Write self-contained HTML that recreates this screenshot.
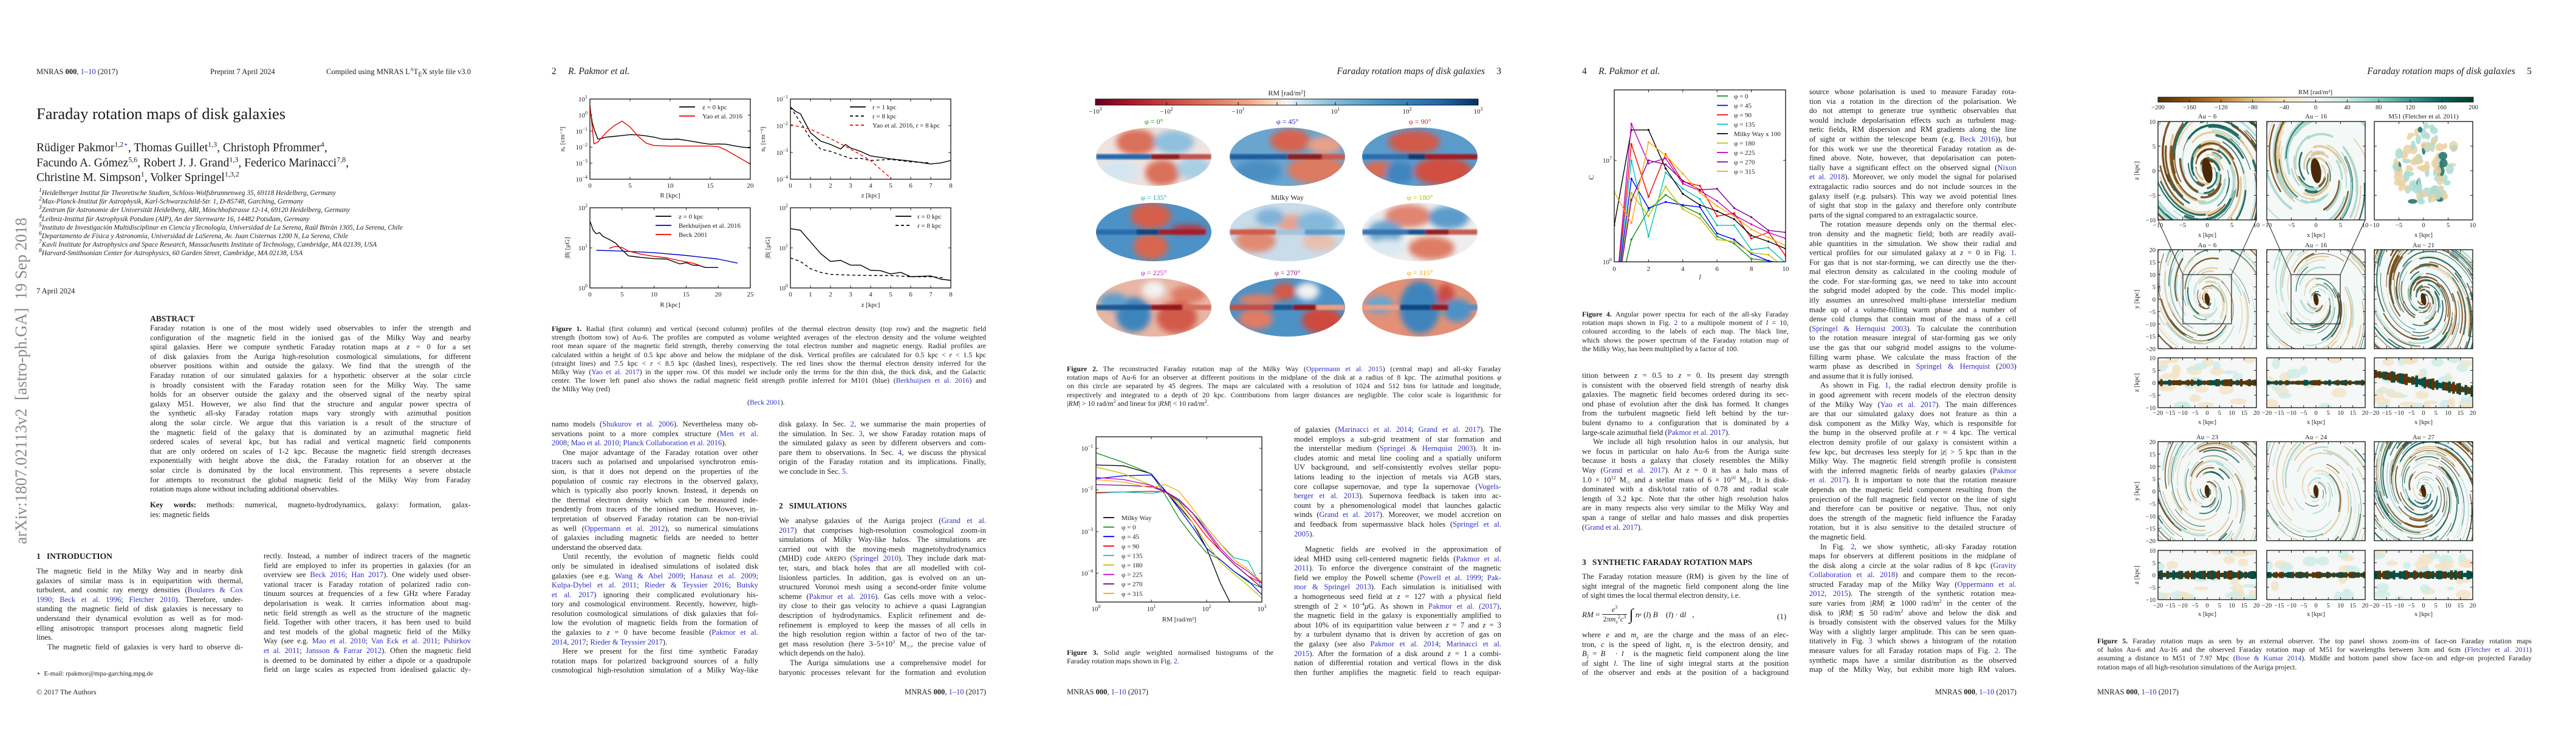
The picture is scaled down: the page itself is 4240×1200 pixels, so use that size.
<!DOCTYPE html>
<html><head><meta charset="utf-8"><title>Faraday rotation maps of disk galaxies</title>
<style>
body{margin:0;width:4240px;height:1200px;background:#fff;position:relative;overflow:hidden;font-family:"Liberation Serif",serif;color:#1c1c1c}
sup,sub{line-height:0}
.pg{position:absolute;top:0;width:848px;height:1200px}
.t{position:absolute;white-space:nowrap}
.col{position:absolute;font-size:12.6px;line-height:15.6px}
.col>div{height:15.6px;overflow:hidden;text-align:justify;text-align-last:justify}
.cap{position:absolute;font-size:11.8px;line-height:14.2px}
.cap>div{height:14.2px;overflow:hidden;text-align:justify;text-align-last:justify}
.col>div.e,.cap>div.e{text-align-last:left}
.col>div.i{text-indent:18px}
.c{color:#3030c0}
.h{position:absolute;font-weight:bold;font-size:13.5px;white-space:nowrap}
#gfx{position:absolute;left:0;top:0}
</style></head>
<body>
<svg id="gfx" width="4240" height="1200">
<defs>
<linearGradient id="rdbu" x1="0" x2="1" y1="0" y2="0">
<stop offset="0" stop-color="#67001f"/><stop offset="0.1" stop-color="#b2182b"/><stop offset="0.25" stop-color="#d6604d"/><stop offset="0.4" stop-color="#f4a582"/><stop offset="0.47" stop-color="#fddbc7"/><stop offset="0.5" stop-color="#f7f7f7"/><stop offset="0.53" stop-color="#d1e5f0"/><stop offset="0.6" stop-color="#92c5de"/><stop offset="0.75" stop-color="#4393c3"/><stop offset="0.9" stop-color="#2166ac"/><stop offset="1" stop-color="#053061"/>
</linearGradient>
<linearGradient id="brbg" x1="0" x2="1" y1="0" y2="0">
<stop offset="0" stop-color="#543005"/><stop offset="0.1" stop-color="#8c510a"/><stop offset="0.2" stop-color="#bf812d"/><stop offset="0.3" stop-color="#dfc27d"/><stop offset="0.4" stop-color="#f6e8c3"/><stop offset="0.5" stop-color="#f5f5f5"/><stop offset="0.6" stop-color="#c7eae5"/><stop offset="0.7" stop-color="#80cdc1"/><stop offset="0.8" stop-color="#35978f"/><stop offset="0.9" stop-color="#01665e"/><stop offset="1" stop-color="#003c30"/>
</linearGradient>
<filter id="bl" x="-20%" y="-20%" width="140%" height="140%"><feGaussianBlur stdDeviation="5"/></filter>
<filter id="bl2"><feGaussianBlur stdDeviation="1.6"/></filter>
</defs>
</svg>

<!-- PAGE 1 -->
<div class="pg" style="left:0">
<div class="t" style="left:60px;top:111px;font-size:12.5px">MNRAS <b>000</b>, <span class="c">1–10</span> (2017)</div>
<div class="t" style="left:346px;top:111px;font-size:12.5px">Preprint 7 April 2024</div>
<div class="t" style="right:73px;top:111px;font-size:12.5px">Compiled using MNRAS L<sup style="font-size:8px">A</sup>T<sub style="font-size:10px">E</sub>X style file v3.0</div>
<div class="t" style="left:60px;top:172px;font-size:26.5px">Faraday rotation maps of disk galaxies</div>
<div class="t" style="left:60px;top:232px;font-size:19.5px;line-height:24.5px">Rüdiger Pakmor<sup style="font-size:12px">1,2<span class="c">⋆</span></sup>, Thomas Guillet<sup style="font-size:12px">1,3</sup>, Christoph Pfrommer<sup style="font-size:12px">4</sup>,<br>Facundo A. Gómez<sup style="font-size:12px">5,6</sup>, Robert J. J. Grand<sup style="font-size:12px">1,3</sup>, Federico Marinacci<sup style="font-size:12px">7,8</sup>,<br>Christine M. Simpson<sup style="font-size:12px">1</sup>, Volker Springel<sup style="font-size:12px">1,3,2</sup></div>
<div class="t" style="left:64px;top:311px;font-size:11.4px;line-height:14.2px;font-style:italic"><sup>1</sup>Heidelberger Institut für Theoretische Studien, Schloss-Wolfsbrunnenweg 35, 69118 Heidelberg, Germany<br><sup>2</sup>Max-Planck-Institut für Astrophysik, Karl-Schwarzschild-Str. 1, D-85748, Garching, Germany<br><sup>3</sup>Zentrum für Astronomie der Universität Heidelberg, ARI, Mönchhofstrasse 12-14, 69120 Heidelberg, Germany<br><sup>4</sup>Leibniz-Institut für Astrophysik Potsdam (AIP), An der Sternwarte 16, 14482 Potsdam, Germany<br><sup>5</sup>Instituto de Investigación Multidisciplinar en Ciencia yTecnología, Universidad de La Serena, Raúl Bitrán 1305, La Serena, Chile<br><sup>6</sup>Departamento de Física y Astronomía, Universidad de LaSerena, Av. Juan Cisternas 1200 N, La Serena, Chile<br><sup>7</sup>Kavli Institute for Astrophysics and Space Research, Massachusetts Institute of Technology, Cambridge, MA 02139, USA<br><sup>8</sup>Harvard-Smithsonian Center for Astrophysics, 60 Garden Street, Cambridge, MA 02138, USA</div>
<div class="t" style="left:60px;top:472px;font-size:12.5px">7 April 2024</div>
<div class="t" style="left:35px;top:627px;transform:translate(-50%,-50%) rotate(-90deg);font-size:27px;color:#8a8a8a;white-space:pre">arXiv:1807.02113v2  [astro-ph.GA]  19 Sep 2018</div>
<div class="h" style="left:247px;top:517px">ABSTRACT</div>
<div class="col" style="left:247px;top:533px;width:528px">
<div>Faraday rotation is one of the most widely used observables to infer the strength and</div>
<div>configuration of the magnetic field in the ionised gas of the Milky Way and nearby</div>
<div>spiral galaxies. Here we compute synthetic Faraday rotation maps at <i>z</i> = 0 for a set</div>
<div>of disk galaxies from the Auriga high-resolution cosmological simulations, for different</div>
<div>observer positions within and outside the galaxy. We find that the strength of the</div>
<div>Faraday rotation of our simulated galaxies for a hypothetic observer at the solar circle</div>
<div>is broadly consistent with the Faraday rotation seen for the Milky Way. The same</div>
<div>holds for an observer outside the galaxy and the observed signal of the nearby spiral</div>
<div>galaxy M51. However, we also find that the structure and angular power spectra of</div>
<div>the synthetic all-sky Faraday rotation maps vary strongly with azimuthal position</div>
<div>along the solar circle. We argue that this variation is a result of the structure of</div>
<div>the magnetic field of the galaxy that is dominated by an azimuthal magnetic field</div>
<div>ordered scales of several kpc, but has radial and vertical magnetic field components</div>
<div>that are only ordered on scales of 1-2 kpc. Because the magnetic field strength decreases</div>
<div>exponentially with height above the disk, the Faraday rotation for an observer at the</div>
<div>solar circle is dominated by the local environment. This represents a severe obstacle</div>
<div>for attempts to reconstruct the global magnetic field of the Milky Way from Faraday</div>
<div class="e">rotation maps alone without including additional observables.</div>
</div>
<div class="col" style="left:247px;top:824px;width:528px">
<div><b>Key words:</b> methods: numerical, magneto-hydrodynamics, galaxy: formation, galax-</div>
<div class="e">ies: magnetic fields</div>
</div>
<div class="h" style="left:60px;top:908px">1 &nbsp; INTRODUCTION</div>
<div class="col" style="left:60px;top:933px;width:340px">
<div>The magnetic field in the Milky Way and in nearby disk</div>
<div>galaxies of similar mass is in equipartition with thermal,</div>
<div>turbulent, and cosmic ray energy densities (<span class="c">Boulares &amp; Cox</span></div>
<div><span class="c">1990</span>; <span class="c">Beck et al. 1996</span>; <span class="c">Fletcher 2010</span>). Therefore, under-</div>
<div>standing the magnetic field of disk galaxies is necessary to</div>
<div>understand their dynamical evolution as well as for mod-</div>
<div>elling anisotropic transport processes along magnetic field</div>
<div class="e">lines.</div>
<div class="i">The magnetic field of galaxies is very hard to observe di-</div>
</div>
<div class="col" style="left:434px;top:908px;width:341px">
<div>rectly. Instead, a number of indirect tracers of the magnetic</div>
<div>field are employed to infer its properties in galaxies (for an</div>
<div>overview see <span class="c">Beck 2016</span>; <span class="c">Han 2017</span>). One widely used obser-</div>
<div>vational tracer is Faraday rotation of polarized radio con-</div>
<div>tinuum sources at frequencies of a few GHz where Faraday</div>
<div>depolarisation is weak. It carries information about mag-</div>
<div>netic field strength as well as the structure of the magnetic</div>
<div>field. Together with other tracers, it has been used to build</div>
<div>and test models of the global magnetic field of the Milky</div>
<div>Way (see e.g. <span class="c">Mao et al. 2010</span>; <span class="c">Van Eck et al. 2011</span>; <span class="c">Pshirkov</span></div>
<div><span class="c">et al. 2011</span>; <span class="c">Jansson &amp; Farrar 2012</span>). Often the magnetic field</div>
<div>is deemed to be dominated by either a dipole or a quadrupole</div>
<div>field on large scales as expected from idealised galactic dy-</div>
</div>
<div class="t" style="left:60px;top:1102px;font-size:11px">⋆ &nbsp;E-mail: rpakmor@mpa-garching.mpg.de</div>
<div class="t" style="left:60px;top:1132px;font-size:12px">© 2017 The Authors</div>
</div>

<!-- PAGE 2 -->
<div class="pg" style="left:848px">
<div class="t" style="left:60px;top:109px;font-size:15.5px">2 &nbsp; &nbsp; <i>R. Pakmor et al.</i></div>
<div class="cap" style="left:60px;top:534px;width:715px">
<div><b>Figure 1.</b> Radial (first column) and vertical (second column) profiles of the thermal electron density (top row) and the magnetic field</div>
<div>strength (bottom tow) of Au-6. The profiles are computed as volume weighted averages of the electron density and the volume weighted</div>
<div>root mean square of the magnetic field strength, thereby conserving the total electron number and magnetic energy. Radial profiles are</div>
<div>calculated within a height of 0.5 kpc above and below the midplane of the disk. Vertical profiles are calculated for 0.5 kpc &lt; <i>r</i> &lt; 1.5 kpc</div>
<div>(straight lines) and 7.5 kpc &lt; <i>r</i> &lt; 8.5 kpc (dashed lines), respectively. The red lines show the thermal electron density inferred for the</div>
<div>Milky Way (<span class="c">Yao et al. 2017</span>) in the upper row. Of this model we include only the terms for the thin disk, the thick disk, and the Galactic</div>
<div>center. The lower left panel also shows the radial magnetic field strength profile inferred for M101 (blue) (<span class="c">Berkhuijsen et al. 2016</span>) and</div>
<div class="e">the Milky Way (red)</div>
</div>
<div class="t" style="left:382px;top:655px;font-size:11.8px">(<span class="c">Beck 2001</span>).</div>
<div class="col" style="left:60px;top:691px;width:340px">
<div>namo models (<span class="c">Shukurov et al. 2006</span>). Nevertheless many ob-</div>
<div>servations point to a more complex structure (<span class="c">Men et al.</span></div>
<div class="e"><span class="c">2008</span>; <span class="c">Mao et al. 2010</span>; <span class="c">Planck Collaboration et al. 2016</span>).</div>
<div class="i">One major advantage of the Faraday rotation over other</div>
<div>tracers such as polarised and unpolarised synchrotron emis-</div>
<div>sion, is that it does not depend on the properties of the</div>
<div>population of cosmic ray electrons in the observed galaxy,</div>
<div>which is typically also poorly known. Instead, it depends on</div>
<div>the thermal electron density which can be measured inde-</div>
<div>pendently from tracers of the ionised medium. However, in-</div>
<div>terpretation of observed Faraday rotation can be non-trivial</div>
<div>as well (<span class="c">Oppermann et al. 2012</span>), so numerical simulations</div>
<div>of galaxies including magnetic fields are needed to better</div>
<div class="e">understand the observed data.</div>
<div class="i">Until recently, the evolution of magnetic fields could</div>
<div>only be simulated in idealised simulations of isolated disk</div>
<div>galaxies (see e.g. <span class="c">Wang &amp; Abel 2009</span>; <span class="c">Hanasz et al. 2009</span>;</div>
<div><span class="c">Kulpa-Dybel et al. 2011</span>; <span class="c">Rieder &amp; Teyssier 2016</span>; <span class="c">Butsky</span></div>
<div><span class="c">et al. 2017</span>) ignoring their complicated evolutionary his-</div>
<div>tory and cosmological environment. Recently, however, high-</div>
<div>resolution cosmological simulations of disk galaxies that fol-</div>
<div>low the evolution of magnetic fields from the formation of</div>
<div>the galaxies to <i>z</i> = 0 have become feasible (<span class="c">Pakmor et al.</span></div>
<div class="e"><span class="c">2014</span>, <span class="c">2017</span>; <span class="c">Rieder &amp; Teyssier 2017</span>).</div>
<div class="i">Here we present for the first time synthetic Faraday</div>
<div>rotation maps for polarized background sources of a fully</div>
<div>cosmological high-resolution simulation of a Milky Way-like</div>
</div>
<div class="col" style="left:434px;top:691px;width:341px">
<div>disk galaxy. In Sec. <span class="c">2</span>, we summarise the main properties of</div>
<div>the simulation. In Sec. <span class="c">3</span>, we show Faraday rotation maps of</div>
<div>the simulated galaxy as seen by different observers and com-</div>
<div>pare them to observations. In Sec. <span class="c">4</span>, we discuss the physical</div>
<div>origin of the Faraday rotation and its implications. Finally,</div>
<div class="e">we conclude in Sec. <span class="c">5</span>.</div>
</div>
<div class="h" style="left:434px;top:825px">2 &nbsp; SIMULATIONS</div>
<div class="col" style="left:434px;top:850px;width:341px">
<div>We analyse galaxies of the Auriga project (<span class="c">Grand et al.</span></div>
<div><span class="c">2017</span>) that comprises high-resolution cosmological zoom-in</div>
<div>simulations of Milky Way-like halos. The simulations are</div>
<div>carried out with the moving-mesh magnetohydrodynamics</div>
<div>(MHD) code <span style="font-size:10.5px">AREPO</span> (<span class="c">Springel 2010</span>). They include dark mat-</div>
<div>ter, stars, and black holes that are all modelled with col-</div>
<div>lisionless particles. In addition, gas is evolved on an un-</div>
<div>structured Voronoi mesh using a second-order finite volume</div>
<div>scheme (<span class="c">Pakmor et al. 2016</span>). Gas cells move with a veloc-</div>
<div>ity close to their gas velocity to achieve a quasi Lagrangian</div>
<div>description of hydrodynamics. Explicit refinement and de-</div>
<div>refinement is employed to keep the masses of all cells in</div>
<div>the high resolution region within a factor of two of the tar-</div>
<div>get mass resolution (here 3–5×10<sup style="font-size:8px">3</sup> M<sub style="font-size:8px">☉</sub>, the precise value of</div>
<div class="e">which depends on the halo).</div>
<div class="i">The Auriga simulations use a comprehensive model for</div>
<div>baryonic processes relevant for the formation and evolution</div>
</div>
<div class="t" style="right:73px;top:1132px;font-size:12.5px">MNRAS <b>000</b>, <span class="c">1–10</span> (2017)</div>
</div>

<!-- PAGE 3 -->
<div class="pg" style="left:1696px">
<div class="t" style="right:73px;top:109px;font-size:15.5px"><i>Faraday rotation maps of disk galaxies</i> &nbsp; &nbsp; 3</div>
<div class="cap" style="left:60px;top:600px;width:715px">
<div><b>Figure 2.</b> The reconstructed Faraday rotation map of the Milky Way (<span class="c">Oppermann et al. 2015</span>) (central map) and all-sky Faraday</div>
<div>rotation maps of Au-6 for an observer at different positions in the midplane of the disk at a radius of 8 kpc. The azimuthal positions <i>φ</i></div>
<div>on this circle are separated by 45 degrees. The maps are calculated with a resolution of 1024 and 512 bins for latitude and longitude,</div>
<div>respectively and integrated to a depth of 20 kpc. Contributions from larger distances are negligible. The color scale is logarithmic for</div>
<div class="e">|<i>RM</i>| &gt; 10 rad/m<sup style="font-size:8px">2</sup> and linear for |<i>RM</i>| &lt; 10 rad/m<sup style="font-size:8px">2</sup>.</div>
</div>
<div class="cap" style="left:60px;top:1067px;width:340px">
<div><b>Figure 3.</b> Solid angle weighted normalised histograms of the</div>
<div class="e">Faraday rotation maps shown in Fig. <span class="c">2</span>.</div>
</div>
<div class="col" style="left:434px;top:700px;width:341px">
<div>of galaxies (<span class="c">Marinacci et al. 2014</span>; <span class="c">Grand et al. 2017</span>). The</div>
<div>model employs a sub-grid treatment of star formation and</div>
<div>the interstellar medium (<span class="c">Springel &amp; Hernquist 2003</span>). It in-</div>
<div>cludes atomic and metal line cooling and a spatially uniform</div>
<div>UV background, and self-consistently evolves stellar popu-</div>
<div>lations leading to the injection of metals via AGB stars,</div>
<div>core collapse supernovae, and type Ia supernovae (<span class="c">Vogels-</span></div>
<div><span class="c">berger et al. 2013</span>). Supernova feedback is taken into ac-</div>
<div>count by a phenomenological model that launches galactic</div>
<div>winds (<span class="c">Grand et al. 2017</span>). Moreover, we model accretion on</div>
<div>and feedback from supermassive black holes (<span class="c">Springel et al.</span></div>
<div class="e"><span class="c">2005</span>).</div>
</div>
<div class="col" style="left:434px;top:897px;width:341px">
<div class="i">Magnetic fields are evolved in the approximation of</div>
<div>ideal MHD using cell-centered magnetic fields (<span class="c">Pakmor et al.</span></div>
<div><span class="c">2011</span>). To enforce the divergence constraint of the magnetic</div>
<div>field we employ the Powell scheme (<span class="c">Powell et al. 1999</span>; <span class="c">Pak-</span></div>
<div><span class="c">mor &amp; Springel 2013</span>). Each simulation is initialised with</div>
<div>a homogeneous seed field at <i>z</i> = 127 with a physical field</div>
<div>strength of 2 × 10<sup style="font-size:8px">−4</sup><i>μ</i>G. As shown in <span class="c">Pakmor et al. (2017)</span>,</div>
<div>the magnetic field in the galaxy is exponentially amplified to</div>
<div>about 10% of its equipartition value between <i>z</i> = 7 and <i>z</i> = 3</div>
<div>by a turbulent dynamo that is driven by accretion of gas on</div>
<div>the galaxy (see also <span class="c">Pakmor et al. 2014</span>; <span class="c">Marinacci et al.</span></div>
<div><span class="c">2015</span>). After the formation of a disk around <i>z</i> = 1 a combi-</div>
<div>nation of differential rotation and vertical flows in the disk</div>
<div>then further amplifies the magnetic field to reach equipar-</div>
</div>
<div class="t" style="left:60px;top:1132px;font-size:12.5px">MNRAS <b>000</b>, <span class="c">1–10</span> (2017)</div>
</div>

<!-- PAGE 4 -->
<div class="pg" style="left:2544px">
<div class="t" style="left:60px;top:109px;font-size:15.5px">4 &nbsp; &nbsp; <i>R. Pakmor et al.</i></div>
<div class="cap" style="left:60px;top:510px;width:340px">
<div><b>Figure 4.</b> Angular power spectra for each of the all-sky Faraday</div>
<div>rotation maps shown in Fig. <span class="c">2</span> to a multipole moment of <i>l</i> = 10,</div>
<div>coloured according to the labels of each map. The black line,</div>
<div>which shows the power spectrum of the Faraday rotation map of</div>
<div class="e">the Milky Way, has been multiplied by a factor of 100.</div>
</div>
<div class="col" style="left:434px;top:144px;width:341px">
<div>source whose polarisation is used to measure Faraday rota-</div>
<div>tion via a rotation in the direction of the polarisation. We</div>
<div>do not attempt to generate true synthetic observables that</div>
<div>would include depolarisation effects such as turbulent mag-</div>
<div>netic fields, RM dispersion and RM gradients along the line</div>
<div>of sight or within the telescope beam (e.g. <span class="c">Beck 2016</span>)), but</div>
<div>for this work we use the theoretical Faraday rotation as de-</div>
<div>fined above. Note, however, that depolarisation can poten-</div>
<div>tially have a significant effect on the observed signal (<span class="c">Nixon</span></div>
<div><span class="c">et al. 2018</span>). Moreover, we only model the signal for polarised</div>
<div>extragalactic radio sources and do not include sources in the</div>
<div>galaxy itself (e.g. pulsars). This way we avoid potential lines</div>
<div>of sight that stop in the galaxy and therefore only contribute</div>
<div class="e">parts of the signal compared to an extragalactic source.</div>
<div class="i">The rotation measure depends only on the thermal elec-</div>
<div>tron density and the magnetic field; both are readily avail-</div>
<div>able quantities in the simulation. We show their radial and</div>
<div>vertical profiles for our simulated galaxy at <i>z</i> = 0 in Fig. <span class="c">1</span>.</div>
<div>For gas that is not star-forming, we can directly use the ther-</div>
<div>mal electron density as calculated in the cooling module of</div>
<div>the code. For star-forming gas, we need to take into account</div>
<div>the subgrid model adopted by the code. This model implic-</div>
<div>itly assumes an unresolved multi-phase interstellar medium</div>
<div>made up of a volume-filling warm phase and a number of</div>
<div>dense cold clumps that contain most of the mass of a cell</div>
<div>(<span class="c">Springel &amp; Hernquist 2003</span>). To calculate the contribution</div>
<div>to the rotation measure integral of star-forming gas we only</div>
<div>use the gas that our subgrid model assigns to the volume-</div>
<div>filling warm phase. We calculate the mass fraction of the</div>
<div>warm phase as described in <span class="c">Springel &amp; Hernquist</span> (<span class="c">2003</span>)</div>
<div class="e">and assume that it is fully ionised.</div>
<div class="i">As shown in Fig. <span class="c">1</span>, the radial electron density profile is</div>
<div>in good agreement with recent models of the electron density</div>
<div>of the Milky Way (<span class="c">Yao et al. 2017</span>). The main differences</div>
<div>are that our simulated galaxy does not feature as thin a</div>
<div>disk component as the Milky Way, which is responsible for</div>
<div>the bump in the observed profile at <i>r</i> ≈ 4 kpc. The vertical</div>
<div>electron density profile of our galaxy is consistent within a</div>
<div>few kpc, but decreases less steeply for |<i>z</i>| &gt; 5 kpc than in the</div>
<div>Milky Way. The magnetic field strength profile is consistent</div>
<div>with the inferred magnetic fields of nearby galaxies (<span class="c">Pakmor</span></div>
<div><span class="c">et al. 2017</span>). It is important to note that the rotation measure</div>
<div>depends on the magnetic field component resulting from the</div>
<div>projection of the full magnetic field vector on the line of sight</div>
<div>and therefore can be positive or negative. Thus, not only</div>
<div>does the strength of the magnetic field influence the Faraday</div>
<div>rotation, but it is also sensitive to the detailed structure of</div>
<div class="e">the magnetic field.</div>
<div class="i">In Fig. <span class="c">2</span>, we show synthetic, all-sky Faraday rotation</div>
<div>maps for observers at different positions in the midplane of</div>
<div>the disk along a circle at the solar radius of 8 kpc (<span class="c">Gravity</span></div>
<div><span class="c">Collaboration et al. 2018</span>) and compare them to the recon-</div>
<div>structed Faraday map of the Milky Way (<span class="c">Oppermann et al.</span></div>
<div><span class="c">2012</span>, <span class="c">2015</span>). The strength of the synthetic rotation mea-</div>
<div>sure varies from |<i>RM</i>| ≳ 1000 rad/m<sup style="font-size:8px">2</sup> in the center of the</div>
<div>disk to |<i>RM</i>| ≲ 50 rad/m<sup style="font-size:8px">2</sup> above and below the disk and</div>
<div>is broadly consistent with the observed values for the Milky</div>
<div>Way with a slightly larger amplitude. This can be seen quan-</div>
<div>titatively in Fig. <span class="c">3</span> which shows a histogram of the rotation</div>
<div>measure values for all Faraday rotation maps of Fig. <span class="c">2</span>. The</div>
<div>synthetic maps have a similar distribution as the observed</div>
<div>map of the Milky Way, but exhibit more high RM values.</div>
</div>
<div class="col" style="left:60px;top:611px;width:340px">
<div>tition between <i>z</i> = 0.5 to <i>z</i> = 0. Its present day strength</div>
<div>is consistent with the observed field strength of nearby disk</div>
<div>galaxies. The magnetic field becomes ordered during its sec-</div>
<div>ond phase of evolution after the disk has formed. It changes</div>
<div>from the turbulent magnetic field left behind by the tur-</div>
<div>bulent dynamo to a configuration that is dominated by a</div>
<div class="e">large-scale azimuthal field (<span class="c">Pakmor et al. 2017</span>).</div>
<div class="i">We include all high resolution halos in our analysis, but</div>
<div>we focus in particular on halo Au-6 from the Auriga suite</div>
<div>because it hosts a galaxy that closely resembles the Milky</div>
<div>Way (<span class="c">Grand et al. 2017</span>). At <i>z</i> = 0 it has a halo mass of</div>
<div>1.0 × 10<sup style="font-size:8px">12</sup> M<sub style="font-size:8px">☉</sub> and a stellar mass of 6 × 10<sup style="font-size:8px">10</sup> M<sub style="font-size:8px">☉</sub>. It is disk-</div>
<div>dominated with a disk/total ratio of 0.78 and radial scale</div>
<div>length of 3.2 kpc. Note that the other high resolution halos</div>
<div>are in many respects also very similar to the Milky Way and</div>
<div>span a range of stellar and halo masses and disk properties</div>
<div class="e">(<span class="c">Grand et al. 2017</span>).</div>
</div>
<div class="h" style="left:60px;top:918px">3 &nbsp; SYNTHETIC FARADAY ROTATION MAPS</div>
<div class="col" style="left:60px;top:942px;width:340px">
<div>The Faraday rotation measure (RM) is given by the line of</div>
<div>sight integral of the magnetic field component along the line</div>
<div class="e">of sight times the local thermal electron density, i.e.</div>
</div>
<div class="t" style="left:60px;top:996px;font-size:13px;display:flex;align-items:center">
<i>RM</i>&nbsp;=&nbsp;<span style="display:inline-flex;flex-direction:column;align-items:center;font-size:12px;line-height:15px"><span><i>e</i><sup style="font-size:8px">3</sup></span><span style="border-top:1px solid #222;padding:0 2px">2<i>πm</i><sub style="font-size:8px">e</sub><sup style="font-size:8px">2</sup><i>c</i><sup style="font-size:8px">3</sup></span></span>&nbsp;<span style="font-size:26px;line-height:26px">∫</span>&nbsp;<i>n</i><sub style="font-size:8px">e</sub>&nbsp;(<i>l</i>)&nbsp;<i>B⃗</i>&nbsp;(<i>l</i>) · d<i>l⃗</i>,</div>
<div class="t" style="left:381px;top:1007px;font-size:13px">(1)</div>
<div class="col" style="left:60px;top:1038px;width:340px">
<div>where <i>e</i> and <i>m</i><sub style="font-size:8px">e</sub> are the charge and the mass of an elec-</div>
<div>tron, <i>c</i> is the speed of light, <i>n</i><sub style="font-size:8px">e</sub> is the electron density, and</div>
<div><i>B</i><sub style="font-size:8px">||</sub> = <i>B⃗</i> · <i>l⃗</i> is the magnetic field component along the line</div>
<div>of sight <i>l</i>. The line of sight integral starts at the position</div>
<div>of the observer and ends at the position of a background</div>
</div>
<div class="t" style="right:73px;top:1132px;font-size:12.5px">MNRAS <b>000</b>, <span class="c">1–10</span> (2017)</div>
</div>

<!-- PAGE 5 -->
<div class="pg" style="left:3392px">
<div class="t" style="right:73px;top:109px;font-size:15.5px"><i>Faraday rotation maps of disk galaxies</i> &nbsp; &nbsp; 5</div>
<div class="cap" style="left:60px;top:1048px;width:715px">
<div><b>Figure 5.</b> Faraday rotation maps as seen by an external observer. The top panel shows zoom-ins of face-on Faraday rotation maps</div>
<div>of halos Au-6 and Au-16 and the observed Faraday rotation map of M51 for wavelengths between 3cm and 6cm (<span class="c">Fletcher et al. 2011</span>)</div>
<div>assuming a distance to M51 of 7.97 Mpc (<span class="c">Bose &amp; Kumar 2014</span>). Middle and bottom panel show face-on and edge-on projected Faraday</div>
<div class="e">rotation maps of all high-resolution simulations of the Auriga project.</div>
</div>
<div class="t" style="left:60px;top:1132px;font-size:12.5px">MNRAS <b>000</b>, <span class="c">1–10</span> (2017)</div>
</div>

<script>
// ===== Figure 1 data (log10 values) =====
const fig1aRadius=[0,0.3,0.6,1,1.5,2,3,4,5,6,7,8,9,10,11,12,13,14,15,16,17,18,19,20];
const fig1aSimLogNe=[0.5,-0.5,-1.0,-1.5,-1.45,-1.38,-1.33,-1.28,-1.22,-1.24,-1.3,-1.38,-1.5,-1.52,-1.5,-1.58,-1.66,-1.75,-1.82,-1.8,-1.82,-1.92,-2.0,-2.05];
const fig1aYaoRadius=[0,0.5,1,2,3,4,5,6,7,8,10,15,16,17,18,19,20];
const fig1aYaoLogNe=[0.64,-1.8,-1.68,-1.1,-0.67,-0.38,-0.74,-1.32,-1.75,-1.9,-1.93,-1.93,-1.97,-2.19,-2.48,-2.77,-3.06];
const fig1bR1Height=[0,0.25,0.5,0.75,1,1.5,2,2.5,2.75,3,3.5,4,5,6,7,7.5,8];
const fig1bR1LogNe=[-1.3,-1.46,-1.55,-1.91,-2.26,-2.57,-2.70,-2.87,-2.70,-2.83,-2.96,-3.13,-3.24,-3.32,-3.43,-3.39,-3.30];
const fig1bR8Height=[0,0.5,1,1.5,2,2.5,3,3.5,4,5,6,7];
const fig1bR8LogNe=[-1.3,-1.87,-2.48,-2.87,-2.96,-3.09,-3.22,-3.22,-3.30,-3.26,-3.35,-3.39];
const fig1bYaoHeight=[0,1,2,3,4,5,5.1];
const fig1bYaoLogNe=[-1.96,-2.13,-2.48,-2.87,-3.30,-3.96,-4.04];
const fig1cRadius=[0,0.5,1,1.5,2,3,4,5,6,7,8,10,12,13,14,15,16,17,18,20];
const fig1cSimLogB=[1.67,1.44,1.35,1.38,1.29,1.21,1.12,0.95,0.80,0.78,0.76,0.73,0.72,0.66,0.60,0.63,0.57,0.56,0.51,0.51];
const fig1cBerkRadius=[1,5,10,15,20,23];
const fig1cBerkLogB=[0.94,0.92,0.88,0.81,0.72,0.62];
const fig1cBeckRadius=[3,4,5,6,8,10,12,14,16,17];
const fig1cBeckLogB=[0.99,1.04,1.01,0.92,0.84,0.79,0.75,0.68,0.62,0.57];
const fig1dR0Height=[0,0.5,1,1.5,2,2.5,3,3.5,4,4.5,5,5.5,6,7,7.5,8];
const fig1dR0LogB=[1.48,1.44,1.15,0.86,0.66,0.69,0.57,0.57,0.44,0.43,0.35,0.39,0.28,0.30,0.22,0.19];
const fig1dR8Height=[0,0.5,1,1.5,2,3,4,5,6,7,7.7];
const fig1dR8LogB=[0.75,0.66,0.48,0.39,0.34,0.32,0.31,0.31,0.28,0.28,0.25];
const fig1aYTickExp=[1,0,-1,-2,-3,-4];
const fig1bYTickExp=[-1,-2,-3,-4];
const fig1cYTickExp=[2,1,0];
const fig1aXTicks=[0,5,10,15,20];
const fig1cXTicks=[0,5,10,15,20,25];
const fig1bXTicks=[0,1,2,3,4,5,6,7,8];

// ===== Figure 3 data =====
const histLogRM=[0,0.5,1,1.25,1.5,1.75,2,2.25,2.5,2.75,3];
const histMilkyWay=[-1.40,-1.42,-1.61,-2.03,-2.40,-2.79,-3.40,-4.24,-4.9,-5.5,-6.0];
const histPhi0=[-1.11,-1.34,-1.61,-2.12,-2.68,-3.12,-3.51,-3.68,-3.96,-4.21,-4.35];
const histPhi45=[-1.73,-1.66,-1.64,-2.01,-2.45,-2.90,-3.40,-3.68,-3.96,-4.18,-4.52];
const histPhi90=[-2.06,-2.05,-2.03,-2.05,-2.28,-2.68,-3.12,-3.46,-3.79,-4.07,-4.24];
const histPhi135=[-2.08,-2.05,-2.08,-2.03,-2.26,-2.56,-2.90,-3.29,-3.63,-3.71,-4.35];
const histPhi180=[-1.45,-1.61,-1.89,-2.03,-2.34,-2.79,-3.29,-3.74,-4.02,-4.30,-4.60];
const histPhi225=[-1.70,-1.75,-1.89,-2.03,-2.23,-2.56,-2.96,-3.40,-3.74,-3.96,-4.24];
const histPhi270=[-1.87,-1.89,-1.92,-2.05,-2.23,-2.56,-3.01,-3.46,-3.79,-4.07,-4.35];
const histPhi315=[-1.75,-1.81,-1.95,-1.87,-2.03,-2.45,-2.90,-3.29,-3.68,-3.91,-4.21];
const histLabels=['Milky Way','φ = 0','φ = 45','φ = 90','φ = 135','φ = 180','φ = 225','φ = 270','φ = 315'];
const fig3YTickExp=[-1,-2,-3,-4];
const fig3XTickExp=[0,1,2,3];

// ===== Figure 4 data =====
const multipoleL=[0,1,2,3,4,5,6,7,8,9,10];
const specPhi0=[5.5,6.22,6.51,6.66,6.55,6.47,6.25,6.18,6.03,6.01,5.98];
const specPhi45=[5.5,6.82,6.53,6.59,6.56,6.54,6.28,6.22,6.08,6.01,5.97];
const specPhi90=[5.5,7.16,6.64,7.06,6.79,6.75,6.45,6.48,6.23,6.29,6.06];
const specPhi135=[5.5,7.0,6.25,6.88,6.72,6.62,6.36,6.36,6.12,6.14,5.99];
const specMilkyWay=[6.36,7.30,7.30,6.92,6.67,6.56,6.50,6.42,6.26,6.20,6.13];
const specPhi180=[5.5,6.68,6.45,6.74,6.52,6.43,6.22,6.20,6.09,6.07,5.94];
const specPhi225=[5.5,7.36,6.97,7.02,6.77,6.70,6.60,6.46,6.37,6.29,6.23];
const specPhi270=[5.5,6.61,7.0,6.96,6.80,6.71,6.72,6.53,6.44,6.31,6.29];
const specPhi315=[6.69,6.38,7.18,7.05,6.87,6.68,6.55,6.45,6.32,6.24,6.16];
const specLabels=['φ = 0','φ = 45','φ = 90','φ = 135','Milky Way x 100','φ = 180','φ = 225','φ = 270','φ = 315'];
const fig4XTicks=[0,2,4,6,8,10];
const fig4YTickExp=[7,6];

// ===== colour bars =====
const rmLogTickLabels=['−10','−10','−10','10','10','10'];
const rmLogTickExp=['3','2','1','1','2','3'];
const rmLogTickValues=[-3,-2,-1,1,2,3];
const rmLinTicks=[-200,-160,-120,-80,-40,0,40,80,120,160,200];

const NS='http://www.w3.org/2000/svg';
const svg=document.getElementById('gfx');
function mk(tag,parent){const e=document.createElementNS(NS,tag);(parent||svg).appendChild(e);return e;}
function at(e,o){for(const k in o)e.setAttribute(k,o[k]);return e;}
function lin(d0,d1,r0,r1){return v=>r0+(v-d0)*(r1-r0)/(d1-d0);}
function txt(x,y,s,size,anchor,color,parent){const t=mk('text',parent);at(t,{x:x,y:y,'font-size':size||11,'text-anchor':anchor||'middle',fill:color||'#222','font-family':'Liberation Serif, serif'});t.textContent=s;return t;}
function pow(x,y,base,exp,anchor,parent){const t=txt(x,y,base,11,anchor,'#222',parent);const s=mk('tspan',t);at(s,{dy:-5,'font-size':8});s.textContent=exp;return t;}
let clipN=0;
function clipRect(x0,y0,x1,y1){const id='cl'+(clipN++);const c=mk('clipPath',svg.querySelector('defs'));c.setAttribute('id',id);const r=mk('rect',c);at(r,{x:x0,y:y0,width:x1-x0,height:y1-y0});return id;}
function frame(x0,y0,x1,y1,name){const r=mk('rect');at(r,{x:x0,y:y0,width:x1-x0,height:y1-y0,fill:'none',stroke:'#111','stroke-width':1.3});


return r;}
function tickMarks(xs,ys,x0,y0,x1,y1){const g=mk('g');at(g,{stroke:'#111','stroke-width':0.9});
xs.forEach(x=>{at(mk('line',g),{x1:x,x2:x,y1:y1,y2:y1-4});at(mk('line',g),{x1:x,x2:x,y1:y0,y2:y0+4});});
ys.forEach(y=>{at(mk('line',g),{x1:x0,x2:x0+4,y1:y,y2:y});at(mk('line',g),{x1:x1,x2:x1-4,y1:y,y2:y});});

}
function series(xs,ys,sx,sy,color,dash,clip,name,w){const p=mk('path');
at(p,{d:xs.map((x,i)=>(i?'L':'M')+sx(x).toFixed(1)+','+sy(ys[i]).toFixed(1)).join(''),fill:'none',stroke:color,'stroke-width':w||1.4,'stroke-dasharray':dash||'none','clip-path':'url(#'+clip+')','stroke-linejoin':'round'});


return p;}
function legendEntry(x0,x1,tx,y,color,dash,label,name){const l=mk('line');at(l,{x1:x0,x2:x1,y1:y,y2:y,stroke:color,'stroke-width':1.8,'stroke-dasharray':dash||'none'});


const t=txt(tx,y+4,label,11,'start');

}
function ytitle(x,y,s,name){const t=txt(x,y,s,11,'middle');t.setAttribute('transform','rotate(-90 '+x+' '+y+')');

}

// ---------- Figure 1 ----------
function fig1Panel(px0,py0,px1,py1,xmax,xticks,ymin,ymax,yexp){
  const sx=lin(0,xmax,px0,px1), sy=lin(ymin,ymax,py1,py0);
  tickMarks(xticks.map(sx),yexp.map(sy),px0,py0,px1,py1);
  xticks.forEach(v=>{const t=txt(sx(v),py1+14,String(v),11);});
  yexp.forEach(e=>{const t=pow(px0-4,sy(e)+4,'10',String(e).replace('-','−'),'end');});
  return {sx,sy,clip:clipRect(px0,py0,px1,py1)};
}
let P=fig1Panel(971,163,1235,295,20,fig1aXTicks,-4,1,fig1aYTickExp);
series(fig1aRadius,fig1aSimLogNe,P.sx,P.sy,'#000','',P.clip,'simulated-density-radial');
series(fig1aYaoRadius,fig1aYaoLogNe,P.sx,P.sy,'#e00','',P.clip,'yao-density-radial');
frame(971,163,1235,295,'fig1-density-radial-axes');
legendEntry(1118,1144,1156,176,'#000','','z = 0 kpc','legend-z0');
legendEntry(1118,1144,1156,191,'#e00','','Yao et al. 2016','legend-yao');
txt(1103,325,'R [kpc]',11);
ytitle(929,229,'nₑ [cm⁻³]','y-axis-title');

P=fig1Panel(1301,163,1565,295,8,fig1bXTicks,-4,-1,fig1bYTickExp);
series(fig1bR1Height,fig1bR1LogNe,P.sx,P.sy,'#000','',P.clip,'density-vertical-r1');
series(fig1bR8Height,fig1bR8LogNe,P.sx,P.sy,'#000','5,4',P.clip,'density-vertical-r8');
series(fig1bYaoHeight,fig1bYaoLogNe,P.sx,P.sy,'#e00','5,4',P.clip,'yao-density-vertical');
frame(1301,163,1565,295,'fig1-density-vertical-axes');
legendEntry(1399,1425,1436,176,'#000','','r = 1 kpc','legend-r1');
legendEntry(1399,1425,1436,191,'#000','5,4','r = 8 kpc','legend-r8');
legendEntry(1399,1425,1436,206,'#e00','5,4','Yao et al. 2016, r = 8 kpc','legend-yao-r8');
txt(1433,325,'z [kpc]',11);
ytitle(1259,229,'nₑ [cm⁻³]','y-axis-title');

P=fig1Panel(971,342,1235,474,25,fig1cXTicks,0,2,fig1cYTickExp);
series(fig1cRadius,fig1cSimLogB,P.sx,P.sy,'#000','',P.clip,'simulated-bfield-radial');
series(fig1cBerkRadius,fig1cBerkLogB,P.sx,P.sy,'#00c','',P.clip,'berkhuijsen-bfield');
series(fig1cBeckRadius,fig1cBeckLogB,P.sx,P.sy,'#e00','',P.clip,'beck-bfield');
frame(971,342,1235,474,'fig1-bfield-radial-axes');
legendEntry(1079,1105,1117,356,'#000','','z = 0 kpc','legend-z0');
legendEntry(1079,1105,1117,371,'#00c','','Berkhuijsen et al. 2016','legend-berkhuijsen');
legendEntry(1079,1105,1117,386,'#e00','','Beck 2001','legend-beck');
txt(1103,505,'R [kpc]',11);
ytitle(937,408,'|B| [μG]','y-axis-title');

P=fig1Panel(1301,342,1565,474,8,fig1bXTicks,0,2,fig1cYTickExp);
series(fig1dR0Height,fig1dR0LogB,P.sx,P.sy,'#000','',P.clip,'bfield-vertical-r0');
series(fig1dR8Height,fig1dR8LogB,P.sx,P.sy,'#000','5,4',P.clip,'bfield-vertical-r8');
frame(1301,342,1565,474,'fig1-bfield-vertical-axes');
legendEntry(1474,1500,1510,356,'#000','','r = 0 kpc','legend-r0');
legendEntry(1474,1500,1510,371,'#000','5,4','r = 8 kpc','legend-r8');
txt(1433,505,'z [kpc]',11);
ytitle(1267,408,'|B| [μG]','y-axis-title');

// ---------- Figure 2 colour bar + maps ----------
(function(){
  const cb=mk('rect');at(cb,{x:1803,y:163,width:630,height:10,fill:'url(#rdbu)',stroke:'#111','stroke-width':1});
  
  
  const pos={'-3':1803,'-2':1920,'-1':2038,'1':2198,'2':2316,'3':2433};
  rmLogTickValues.forEach((v,i)=>{const x=pos[String(v)];at(mk('line'),{x1:x,x2:x,y1:168,y2:173,stroke:'#111'});
    const t=pow(x,187,rmLogTickLabels[i],rmLogTickExp[i],'middle');});
  [2102,2134].forEach(x=>at(mk('line'),{x1:x,x2:x,y1:168,y2:173,stroke:'#111'}));
  const t=txt(2118,157,'RM [rad/m²]',12);
})();
const mapTitles=['φ = 0°','φ = 45°','φ = 90°','φ = 135°','Milky Way','φ = 180°','φ = 225°','φ = 270°','φ = 315°'];
const mapTitleColors=['#1a8a1a','#2222dd','#e02020','#10b0b0','#222','#b8b800','#c020c0','#8a1a8a','#f0a000'];
const mapSpecs=[
 {base:'#eee3df',blobs:[[-0.3,-0.5,0.35,0.45,'#d9705a'],[0.35,-0.5,0.35,0.4,'#8fc0dd'],[0.15,0.55,0.3,0.45,'#d9705a'],[-0.6,0.5,0.35,0.4,'#d5e6f0'],[0.7,0.4,0.3,0.4,'#a9cfe5']],band:[[-1,-0.05,'#2166ac'],[-0.05,0.45,'#8b1a1a'],[0.45,1,'#c0504a']]},
 {base:'#6aa5d0',blobs:[[0.05,-0.55,0.35,0.4,'#d7634f'],[0.5,0.45,0.5,0.5,'#dc7a62'],[0.65,-0.4,0.3,0.3,'#e8a08a'],[-0.5,0.5,0.4,0.4,'#4b8fc2']],band:[[-1,0,'#1d5c9b'],[0,0.6,'#8b1a1a'],[0.6,1,'#c9584c']]},
 {base:'#5b9bcc',blobs:[[-0.1,-0.5,0.45,0.4,'#d25a48'],[0.4,0.5,0.5,0.5,'#d0503f'],[-0.7,0.45,0.3,0.3,'#d96a55'],[-0.35,0.55,0.25,0.4,'#3f85bd']],band:[[-1,-0.2,'#2a6cab'],[-0.2,0.1,'#0a3a70'],[0.1,1,'#9e1d24']]},
 {base:'#4d92c6',blobs:[[-0.05,-0.55,0.35,0.45,'#d55f4b'],[-0.05,0.5,0.3,0.45,'#d8664f'],[0.6,-0.1,0.3,0.15,'#b9303a']],band:[[-1,-0.3,'#2a6cab'],[-0.3,0.1,'#0d4580'],[0.1,0.9,'#a41f2a']]},
 {base:'#c9dcea',blobs:[[-0.55,0.3,0.35,0.4,'#e08a72'],[0.1,-0.3,0.3,0.3,'#e9a18a'],[-0.3,-0.5,0.25,0.3,'#7fb3d8'],[0.5,-0.3,0.35,0.4,'#85b8da'],[0.55,0.35,0.3,0.3,'#e6c0b0']],band:[[-1,-0.2,'#cf5b48'],[-0.2,0.3,'#9ec4df'],[0.3,1,'#5b9bcc']]},
 {base:'#eeeeee',blobs:[[-0.2,-0.55,0.4,0.4,'#e08570'],[0.5,-0.5,0.35,0.4,'#5b9bcc'],[-0.6,0.0,0.3,0.4,'#6aa5d0'],[0.2,0.55,0.4,0.4,'#de7b65'],[-0.55,0.55,0.3,0.3,'#dde9f0']],band:[[-1,-0.2,'#3574b0'],[-0.2,0.1,'#164f8c'],[0.1,0.5,'#8f1b22'],[0.5,1,'#c9584c']]},
 {base:'#e8b6a5',blobs:[[-0.35,0.25,0.3,0.6,'#3d84bd'],[0.4,0.35,0.35,0.55,'#d25a48'],[-0.7,-0.2,0.25,0.3,'#5f9fcc'],[0.6,-0.45,0.3,0.3,'#de7b65'],[0,-0.6,0.2,0.3,'#f2f2f2']],band:[[-1,-0.05,'#1a568f'],[-0.05,0.5,'#93161f'],[0.5,1,'#d46a5a']]},
 {base:'#4d92c6',blobs:[[-0.05,-0.55,0.2,0.3,'#d25a48'],[0.35,-0.55,0.2,0.3,'#f2f2f2'],[-0.55,0.4,0.3,0.35,'#e07d65'],[0.6,0.45,0.35,0.45,'#cd4a3c'],[-0.5,-0.25,0.35,0.2,'#e07d65']],band:[[-1,-0.25,'#c84a40'],[-0.25,0.1,'#1a568f'],[0.1,0.5,'#93161f'],[0.5,1,'#e8a08a']]},
 {base:'#e49077',blobs:[[0,0,0.35,0.9,'#3d84bd'],[0.45,-0.4,0.15,0.4,'#cd4a3c'],[0.65,0.1,0.25,0.4,'#4d92c6'],[-0.7,-0.1,0.25,0.3,'#6aa5d0']],band:[[-1,-0.35,'#e8a08a'],[-0.35,0.2,'#0d4580'],[0.2,0.5,'#93161f'],[0.5,1,'#4d92c6']]}
];
(function(){
  const cxs=[1899,2119,2337], cys=[258,382,506], titleYs=[204,329,453], rx=95, ry=48;
  mapSpecs.forEach((m,i)=>{
    const cx=cxs[i%3], cy=cys[Math.floor(i/3)];
    const id='mapclip'+i;const c=mk('clipPath',svg.querySelector('defs'));c.setAttribute('id',id);
    at(mk('ellipse',c),{cx:cx,cy:cy,rx:rx,ry:ry});
    const g=mk('g');g.setAttribute('clip-path','url(#'+id+')');
    
    
    at(mk('rect',g),{x:cx-rx,y:cy-ry,width:2*rx,height:2*ry,fill:m.base});
    const gb=mk('g',g);gb.setAttribute('filter','url(#bl)');
    m.blobs.forEach(b=>at(mk('ellipse',gb),{cx:cx+b[0]*rx,cy:cy+b[1]*ry,rx:b[2]*rx,ry:b[3]*ry,fill:b[4]}));
    const gd=mk('g',g);gd.setAttribute('filter','url(#bl2)');
    m.band.forEach(s=>at(mk('rect',gd),{x:cx+s[0]*rx,y:cy-ry*0.09,width:(s[1]-s[0])*rx,height:ry*0.18,fill:s[2]}));
    const t=txt(cx,titleYs[Math.floor(i/3)],mapTitles[i],12,'middle',mapTitleColors[i]);
    
    
  });
})();

// ---------- Figure 3 ----------
(function(){
  const x0=1804,x1=2077,y0=719,y1=991;
  const sx=lin(0,3,x0,x1), sy=lin(-1,-2,738,806.5);
  const clip=clipRect(x0,y0,x1,y1);
  tickMarks(fig3XTickExp.map(sx),fig3YTickExp.map(sy),x0,y0,x1,y1);
  fig3XTickExp.forEach(e=>{const t=pow(sx(e),y1+15,'10',String(e),'middle');});
  fig3YTickExp.forEach(e=>{const t=pow(x0-5,sy(e)+4,'10',String(e).replace('-','−'),'end');});
  const all=[histMilkyWay,histPhi0,histPhi45,histPhi90,histPhi135,histPhi180,histPhi225,histPhi270,histPhi315];
  const cols=['#000','#1a8a1a','#0000ff','#ff0000','#00bfbf','#bfbf00','#bf00bf','#800080','#ffa500'];
  all.forEach((s,i)=>{series(histLogRM,s,sx,sy,cols[i],'',clip,'histogram-'+i,1.3);
    legendEntry(1816,1834,1846,852+15.6*i,cols[i],'',histLabels[i],'fig3-legend-'+i);});
  frame(x0,y0,x1,y1,'fig3-axes');
  txt(1941,1023,'RM [rad/m²]',11);
})();

// ---------- Figure 4 ----------
(function(){
  const x0=2657,x1=2939,y0=148,y1=431;
  const sx=lin(0,10,x0,x1), sy=lin(7,6,264,431);
  const clip=clipRect(x0,y0,x1,y1);
  tickMarks(fig4XTicks.map(sx),fig4YTickExp.map(sy),x0,y0,x1,y1);
  fig4XTicks.forEach(v=>{const t=txt(sx(v),y1+15,String(v),11);});
  fig4YTickExp.forEach(e=>{const t=pow(x0-4,sy(e)+4,'10',String(e),'end');});
  const all=[specPhi0,specPhi45,specPhi90,specPhi135,specMilkyWay,specPhi180,specPhi225,specPhi270,specPhi315];
  const cols=['#1a8a1a','#0000ff','#ff0000','#00bfbf','#000','#bfbf00','#bf00bf','#800080','#ffa500'];
  all.forEach((s,i)=>{series(multipoleL,s,sx,sy,cols[i],'',clip,'power-spectrum-'+i,1.4);
    const g=mk('g');g.setAttribute('clip-path','url(#'+clip+')');
    
    
    multipoleL.forEach((l,j)=>at(mk('circle',g),{cx:sx(l),cy:sy(s[j]),r:1.6,fill:cols[i]}));
    legendEntry(2826,2844,2854,158+15.5*i,cols[i],'',specLabels[i],'fig4-legend-'+i);});
  frame(x0,y0,x1,y1,'fig4-axes');
  const yl=txt(2623,292,'C',12);yl.setAttribute('transform','rotate(-90 2623 292)');
  
  const xl=txt(2798,460,'l',12);xl.setAttribute('font-style','italic');
  
})();

// ---------- Figure 5 ----------
function hsh(n){const s=Math.sin(n*12.9898)*43758.5453;return s-Math.floor(s);}
const colX=[3552,3731,3908], PW=162;
(function(){
  const cb=mk('rect');at(cb,{x:3552,y:160,width:519,height:8,fill:'url(#brbg)',stroke:'#111','stroke-width':1});
  
  
  const sx=lin(-200,200,3552,4071);
  rmLinTicks.forEach(v=>{at(mk('line'),{x1:sx(v),x2:sx(v),y1:164,y2:168,stroke:'#111'});
    const t=txt(sx(v),180,String(v).replace('-','−'),10.5);});
  txt(3811,155,'RM [rad/m²]',11);
})();
function facePanel(x,y,w,h,kpc,density,seed,tilt,name){
  const clip=clipRect(x,y,x+w,y+h);
  const g=mk('g');g.setAttribute('clip-path','url(#'+clip+')');
  
  
  at(mk('rect',g),{x:x,y:y,width:w,height:h,fill:'#f4f8f7'});
  const s=w/kpc, cx=x+w/2, cy=y+h/2;
  const gi=mk('g',g);gi.setAttribute('transform','translate('+cx+','+cy+') rotate('+tilt+') scale(1,1.28)');
  const N=Math.round(60+160*density), rmax=kpc*0.62;
  for(let k=0;k<N;k++){
    const r0=0.3+rmax*Math.pow(hsh(k+seed),0.9), th0=6.283*hsh(k*3.1+seed), span=0.5+1.1*hsh(k*5.7+seed);
    let d='';for(let j=0;j<10;j++){const th=th0+span*j/9, r=r0*Math.exp(0.25*span*j/9);d+=(j?'L':'M')+(r*Math.cos(th)*s).toFixed(1)+','+(r*Math.sin(th)*s).toFixed(1);}
    const dark=hsh(k*9.1+seed)<density, brown=hsh(k*7.7+seed)<0.5;
    const col=dark?(brown?'#6b3d08':'#0a5a50'):(brown?'#e0c390':'#9fd6cd');
    at(mk('path',gi),{d:d,fill:'none',stroke:col,'stroke-width':(0.8+2.6*hsh(k*2.3+seed))*Math.max(0.6,s/7),'stroke-linecap':'round',opacity:0.85});
  }
  at(mk('ellipse',gi),{cx:0,cy:0,rx:1.0*s,ry:2.0*s,fill:'#4a2a06'});
  frame(x,y,x+w,y+h,name+'-frame');
}
function edgePanel(x,y,w,h,thick,seed,slope,halo,name){
  const clip=clipRect(x,y,x+w,y+h);
  const g=mk('g');g.setAttribute('clip-path','url(#'+clip+')');
  
  
  at(mk('rect',g),{x:x,y:y,width:w,height:h,fill:'#f5f8f7'});
  for(let k=0;k<30*halo;k++){at(mk('ellipse',g),{cx:x+w*hsh(k+seed),cy:y+h*hsh(k*2.1+seed),rx:6+8*hsh(k*3.3),ry:3+6*hsh(k*4.4),fill:hsh(k*5.5+seed)<0.5?'#f2e2c4':'#cdebe6',opacity:0.8});}
  const n=48;
  for(let i=0;i<n;i++){const xx=x+i*w/n, yy=y+h/2+slope*(i/n-0.5)*h, th=thick*(0.6+0.8*hsh(i+seed));
    at(mk('rect',g),{x:xx,y:yy-th/2,width:w/n+1,height:th,fill:hsh(i*3.7+seed)<0.5?'#5e3506':'#064f46'});}
  frame(x,y,x+w,y+h,name+'-frame');
}
function m51Panel(x,y,w,h,name){
  const g=mk('g');
  
  
  at(mk('rect',g),{x:x,y:y,width:w,height:h,fill:'#fff'});
  const cx=x+w/2+4, cy=y+h/2-8;
  for(let k=0;k<110;k++){const a=6.283*hsh(k+3), r=Math.sqrt(hsh(k*1.7+5));
    const px=cx+r*52*Math.cos(a), py=cy+r*68*Math.sin(a);
    const q=hsh(k*2.9);
    at(mk('ellipse',g),{cx:px,cy:py,rx:3+5*hsh(k*4.1),ry:3+6*hsh(k*6.3),fill:q<0.45?'#ead1a2':(q<0.92?'#a9dcd4':'#1c6d63'),opacity:0.85});}
  frame(x,y,x+w,y+h,name+'-frame');
}
function panelAxes(row,y0,y1,yvals,xvals,xlabY,xtitleY,ytitleText){
  const sy=lin(yvals[0],yvals[yvals.length-1],y0,y1);
  yvals.forEach(v=>{const t=txt(colX[0]-4,sy(v)+4,String(v).replace('-','−'),10.5,'end');});
  colX.forEach(x=>{const sx=lin(xvals[0],xvals[xvals.length-1],x,x+PW);
    tickMarks(xvals.map(sx),yvals.map(sy),x,y0,x+PW,y1);
    if(xlabY){xvals.forEach(v=>{const t=txt(sx(v),xlabY,String(v).replace('-','−'),10.5);});
      txt(x+PW/2,xtitleY,'x [kpc]',10.5);}
  });
  ytitle(3520,(y0+y1)/2,ytitleText,'y-axis-title-'+row);
}
const titles5=[['Au − 6','Au − 16','M51 (Fletcher et al. 2011)'],['Au − 6','Au − 16','Au − 21'],['Au − 23','Au − 24','Au − 27']];
[[195,0],[407,1],[723,2]].forEach(([y,r])=>titles5[r].forEach((s,i)=>{const t=txt(colX[i]+PW/2,y,s,11);}));
facePanel(3552,200,PW,162,20,0.55,11,-10,'au6-zoom-faceon');
facePanel(3731,200,PW,162,20,0.22,23,-8,'au16-zoom-faceon');
m51Panel(3908,200,PW,162,'m51-observed');
panelAxes(1,200,362,[10,5,0,-5,-10],[-10,-5,0,5,10],374,390,'z [kpc]');
facePanel(3552,411,PW,163,40,0.35,31,-8,'au6-faceon');
facePanel(3731,411,PW,163,40,0.25,41,-8,'au16-faceon');
facePanel(3908,411,PW,163,40,0.8,51,-12,'au21-faceon');
panelAxes(2,411,574,[20,15,10,5,0,-5,-10,-15,-20],[-20,-15,-10,-5,0,5,10,15,20],0,0,'y [kpc]');
edgePanel(3552,589,PW,82,9,61,0,1,'au6-edgeon');
edgePanel(3731,589,PW,82,7,71,0,0.5,'au16-edgeon');
edgePanel(3908,589,PW,82,14,81,0.35,1.2,'au21-edgeon');
panelAxes(3,589,671,[10,5,0,-5,-10],[-20,-15,-10,-5,0,5,10,15,20],683,698,'z [kpc]');
facePanel(3552,727,PW,163,40,0.45,91,-6,'au23-faceon');
facePanel(3731,727,PW,163,40,0.22,101,-6,'au24-faceon');
facePanel(3908,727,PW,163,40,0.7,111,-10,'au27-faceon');
panelAxes(4,727,890,[20,15,10,5,0,-5,-10,-15,-20],[-20,-15,-10,-5,0,5,10,15,20],0,0,'y [kpc]');
edgePanel(3552,906,PW,81,11,121,0,1,'au23-edgeon');
edgePanel(3731,906,PW,81,8,131,0,0.5,'au24-edgeon');
edgePanel(3908,906,PW,81,11,141,0,1,'au27-edgeon');
panelAxes(5,906,987,[10,5,0,-5,-10],[-20,-15,-10,-5,0,5,10,15,20],1000,1014,'z [kpc]');
[[3552,3593,3673],[3731,3771,3852]].forEach(([px,rx0,rx1],i)=>{
  const r=mk('rect');at(r,{x:rx0,y:452,width:rx1-rx0,height:81,fill:'none',stroke:'#222','stroke-width':1.2});
  
  
  at(mk('line'),{x1:px,y1:362,x2:rx0,y2:452,stroke:'#222','stroke-width':1});
  at(mk('line'),{x1:px+PW,y1:362,x2:rx1,y2:452,stroke:'#222','stroke-width':1});
});
</script>
</body></html>
